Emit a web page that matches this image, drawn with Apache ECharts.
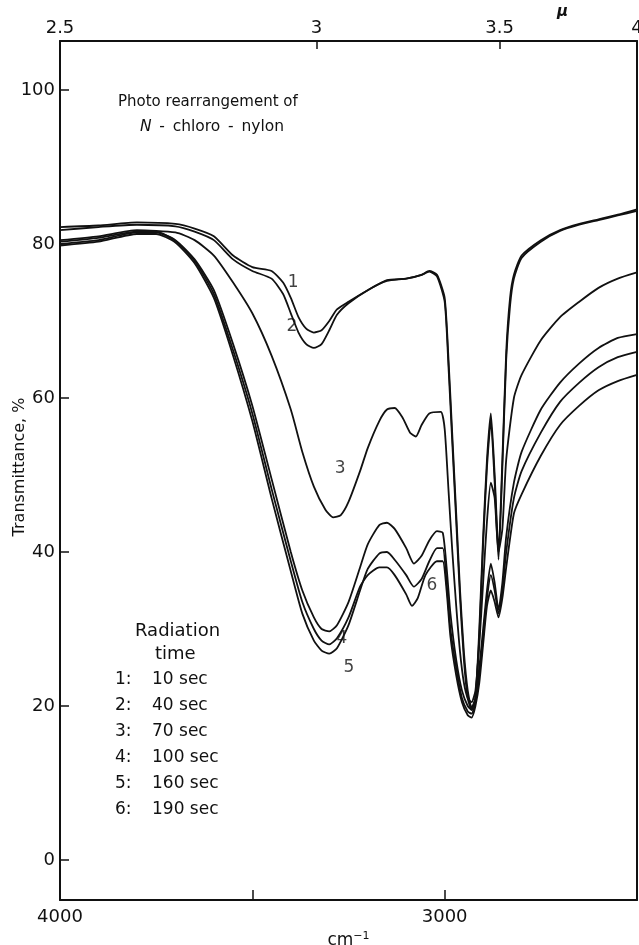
<!DOCTYPE html>
<html><head><meta charset="utf-8">
<script src="https://cdn.jsdelivr.net/npm/echarts@6/dist/echarts.min.js"></script>
<style>html,body{margin:0;padding:0;background:#fff}#c{width:639px;height:945px}</style>
</head><body><div id="c"></div>
<script>
// Wavenumber (cm-1) and transmittance (%) for each curve
const nu1 = [4000,3900,3800,3700,3650,3600,3550,3500,3450,3420,3400,3380,3360,3340,3320,3300,3280,3250,3200,3150,3100,3060,3040,3020,3000,2990,2980,2970,2960,2950,2940,2930,2920,2910,2900,2890,2880,2870,2860,2850,2840,2830,2820,2800,2750,2700,2650,2600,2550,2500];
const tr1 = [82.2,82.4,82.8,82.6,82.0,81.0,78.5,77.0,76.5,75.0,73.0,70.5,69.0,68.5,68.8,70.0,71.5,72.5,74.0,75.3,75.5,76.0,76.5,76.0,73.0,65,55,45,35,27,22,19.8,21,30,42,52,58,50,40,52,66,73,76,78.5,80.5,81.8,82.6,83.2,83.8,84.5];
const nu2 = [4000,3900,3800,3700,3650,3600,3550,3500,3450,3420,3400,3380,3360,3340,3320,3300,3280,3250,3200,3150,3100,3060,3040,3020,3000,2990,2980,2970,2960,2950,2940,2930,2920,2910,2900,2890,2880,2870,2860,2850,2840,2830,2820,2800,2750,2700,2650,2600,2550,2500];
const tr2 = [81.8,82.2,82.5,82.3,81.6,80.5,78.0,76.5,75.5,73.5,71.0,68.5,67.0,66.5,67.0,68.8,70.8,72.3,74.0,75.2,75.5,76.0,76.4,75.8,72.5,64,54,44,34,26,21,19.5,21,29,41,51,57,49,39,51,65,72,75.5,78.2,80.3,81.7,82.5,83.1,83.7,84.3];
const nu3 = [4000,3900,3800,3700,3650,3600,3550,3500,3450,3400,3370,3340,3310,3290,3270,3250,3220,3200,3170,3150,3130,3110,3090,3075,3060,3040,3010,3000,2990,2980,2970,2960,2950,2940,2930,2920,2910,2900,2890,2880,2870,2860,2850,2840,2820,2800,2750,2700,2650,2600,2550,2500];
const tr3 = [80.5,81.0,81.8,81.5,80.5,78.5,75.0,71.0,65.5,58.5,53.0,48.5,45.5,44.5,44.8,46.5,50.5,53.5,57.0,58.5,58.7,57.5,55.5,55.0,56.5,58.0,58.2,56.0,48,40,33,27,23,21,20.5,22,28,36,44,49,47,40,43,52,60,63,67.5,70.5,72.5,74.3,75.5,76.3];
const nu4 = [4000,3900,3800,3750,3700,3650,3600,3550,3500,3450,3400,3370,3340,3320,3300,3280,3250,3220,3200,3170,3150,3130,3100,3080,3060,3040,3020,3005,2995,2985,2970,2955,2940,2930,2920,2910,2900,2890,2880,2870,2860,2850,2840,2820,2800,2750,2700,2650,2600,2550,2500];
const tr4 = [80.0,80.5,81.5,81.5,80.5,78.0,74.0,67.0,59.0,49.5,40.0,35.0,31.5,30.0,29.7,30.5,33.5,38.0,41.0,43.5,43.8,43.0,40.5,38.5,39.5,41.5,42.7,42.5,38,32,26,22,20,19.5,21,25,30,35,38.5,36,32.5,36,42,49,53,58.5,62,64.5,66.5,67.8,68.3];
const nu5 = [4000,3900,3800,3750,3700,3650,3600,3550,3500,3450,3400,3370,3340,3320,3300,3280,3250,3220,3200,3170,3150,3130,3100,3080,3060,3040,3020,3005,2995,2985,2970,2955,2940,2930,2920,2910,2900,2890,2880,2870,2860,2850,2840,2820,2800,2750,2700,2650,2600,2550,2500];
const tr5 = [79.8,80.3,81.3,81.3,80.2,77.5,73.0,65.5,57.0,47.0,37.5,32.0,28.5,27.2,26.8,27.5,30.5,35.0,37.8,39.8,40.0,39.0,37.0,35.5,36.5,38.8,40.5,40.5,36,30,25,21,19.3,19,20.5,24,29,34,37,35,32,35,40,47,50.5,55.5,59.5,62,64,65.3,66];
const nu6 = [4000,3900,3800,3750,3700,3650,3600,3550,3500,3450,3400,3370,3340,3320,3300,3280,3250,3220,3200,3170,3150,3130,3100,3085,3070,3050,3020,3005,2995,2985,2970,2955,2940,2930,2920,2910,2900,2890,2880,2870,2860,2850,2840,2820,2800,2750,2700,2650,2600,2550,2500];
const tr6 = [80.3,80.8,81.6,81.6,80.4,77.8,73.5,66.2,58.0,48.2,38.8,33.5,30.0,28.5,28.0,28.8,31.5,35.5,37.0,38.0,38.0,37.0,34.5,33.0,34.0,37.0,38.8,38.8,35,29,24,20.5,18.8,18.5,20,23,28,33,35,33.5,31.5,34,38,45,47.5,52.5,56.5,59,61,62.2,63];

// Curve number labels: position (cm-1, %) and text
const lblNu = [3394,3397,3272,3267,3249,3033];
const lblT = [75.0,69.3,50.8,28.8,25.0,35.7];
const lblText = ['1','2','3','4','5','6'];

// Axis ticks
const yTicks = [0,20,40,60,80,100];
const bottomTicks = [3500,3000];
const bottomLabels = [4000,3000];
const micronLabels = [2.5,3,3.5,4];

// Legend text
const legendNums = ['1:','2:','3:','4:','5:','6:'];
const legendTimes = ['10 sec','40 sec','70 sec','100 sec','160 sec','190 sec'];

const FONT = 'DejaVu Sans';
const chart = echarts.init(document.getElementById('c'), null, {renderer:'canvas'});

function pairs(nu, tr){ return nu.map((v,i)=>[v,tr[i]]); }
const curves = [[nu1,tr1],[nu2,tr2],[nu3,tr3],[nu4,tr4],[nu5,tr5],[nu6,tr6]];

const series = curves.map((c,i)=>({
  type:'line', data:pairs(c[0],c[1]), showSymbol:false, smooth:0.2,
  lineStyle:{color:'#111', width:1.8}, silent:true, xAxisIndex:0, yAxisIndex:0
}));
series.push({
  type:'scatter', symbolSize:0, xAxisIndex:0, yAxisIndex:0, silent:true,
  data: lblNu.map((v,i)=>[v,lblT[i],lblText[i]]),
  label:{show:true, position:'inside', formatter:p=>p.data[2], color:'#111', fontFamily:FONT, fontSize:17}
});

const legendGraphics = [];
legendGraphics.push({type:'text', left:135, top:622, style:{text:'Radiation', font:'18px "DejaVu Sans"', fill:'#111'}});
legendGraphics.push({type:'text', left:155, top:645, style:{text:'time', font:'18px "DejaVu Sans"', fill:'#111'}});
legendNums.forEach((n,i)=>{
  legendGraphics.push({type:'text', left:115, top:671+i*26, style:{text:n, font:'17px "DejaVu Sans"', fill:'#111'}});
  legendGraphics.push({type:'text', left:152, top:671+i*26, style:{text:legendTimes[i], font:'17px "DejaVu Sans"', fill:'#111'}});
});

chart.setOption({
  animation:false,
  backgroundColor:'#fff',
  grid:{left:60, right:2, top:41, bottom:45, show:false, containLabel:false, outerBoundsMode:'none'},
  xAxis:[{
    type:'value', min:2500, max:4000, inverse:true, position:'bottom',
    axisLine:{show:true, onZero:false, lineStyle:{color:'#111', width:2}},
    axisTick:{show:true, inside:true, length:10, customValues:bottomTicks, lineStyle:{color:'#111', width:1.5}},
    axisLabel:{show:true, customValues:bottomLabels, formatter:v=>String(v), color:'#111', fontFamily:FONT, fontSize:18, margin:8},
    splitLine:{show:false},
    name:'{a|cm}{b|−1}', nameLocation:'middle', nameGap:30,
    nameTextStyle:{rich:{a:{fontFamily:FONT, fontSize:17, color:'#111'}, b:{fontFamily:FONT, fontSize:11, color:'#111', verticalAlign:'top', padding:[0,0,8,0]}}}
  },{
    type:'value', min:2500, max:4000, inverse:true, position:'top',
    axisLine:{show:true, onZero:false, lineStyle:{color:'#111', width:2}},
    axisTick:{show:true, inside:true, length:8, customValues:micronLabels.slice(1,3).map(m=>10000/m), lineStyle:{color:'#111', width:1.5}},
    axisLabel:{show:true, customValues:micronLabels.map(m=>10000/m), formatter:v=>String(Math.round(10000/v*10)/10), color:'#111', fontFamily:FONT, fontSize:18, margin:4},
    splitLine:{show:false}
  }],
  yAxis:[{
    type:'value', min:-5.19, max:106.36, position:'left',
    axisLine:{show:true, onZero:false, lineStyle:{color:'#111', width:2}},
    axisTick:{show:true, inside:true, length:9, customValues:yTicks, lineStyle:{color:'#111', width:1.5}},
    axisLabel:{show:true, customValues:yTicks, formatter:v=>String(v), color:'#111', fontFamily:FONT, fontSize:18, margin:5},
    splitLine:{show:false}
  },{
    type:'value', min:-5.19, max:106.36, position:'right',
    axisLine:{show:true, onZero:false, lineStyle:{color:'#111', width:2}},
    axisTick:{show:false}, axisLabel:{show:false}, splitLine:{show:false}
  }],
  series: series,
  graphic: [
    {type:'text', x:20, y:467, rotation:Math.PI/2, style:{text:'Transmittance, %', font:'16px "DejaVu Sans"', fill:'#111', align:'center', verticalAlign:'middle'}},
    {type:'text', left:118, top:95, style:{text:'Photo rearrangement of', font:'15px "DejaVu Sans"', fill:'#111'}},
    {type:'text', left:140, top:119, style:{text:'{i|N}\u2002-\u2002chloro\u2002-\u2002nylon', rich:{i:{fontStyle:'italic', fontFamily:FONT, fontSize:15.5}}, font:'15.5px "DejaVu Sans"', fill:'#111'}},
    {type:'text', left:557, top:5, style:{text:'μ', font:'italic bold 15px "DejaVu Sans"', fill:'#111'}}
  ].concat(legendGraphics)
});
</script>
</body></html>
